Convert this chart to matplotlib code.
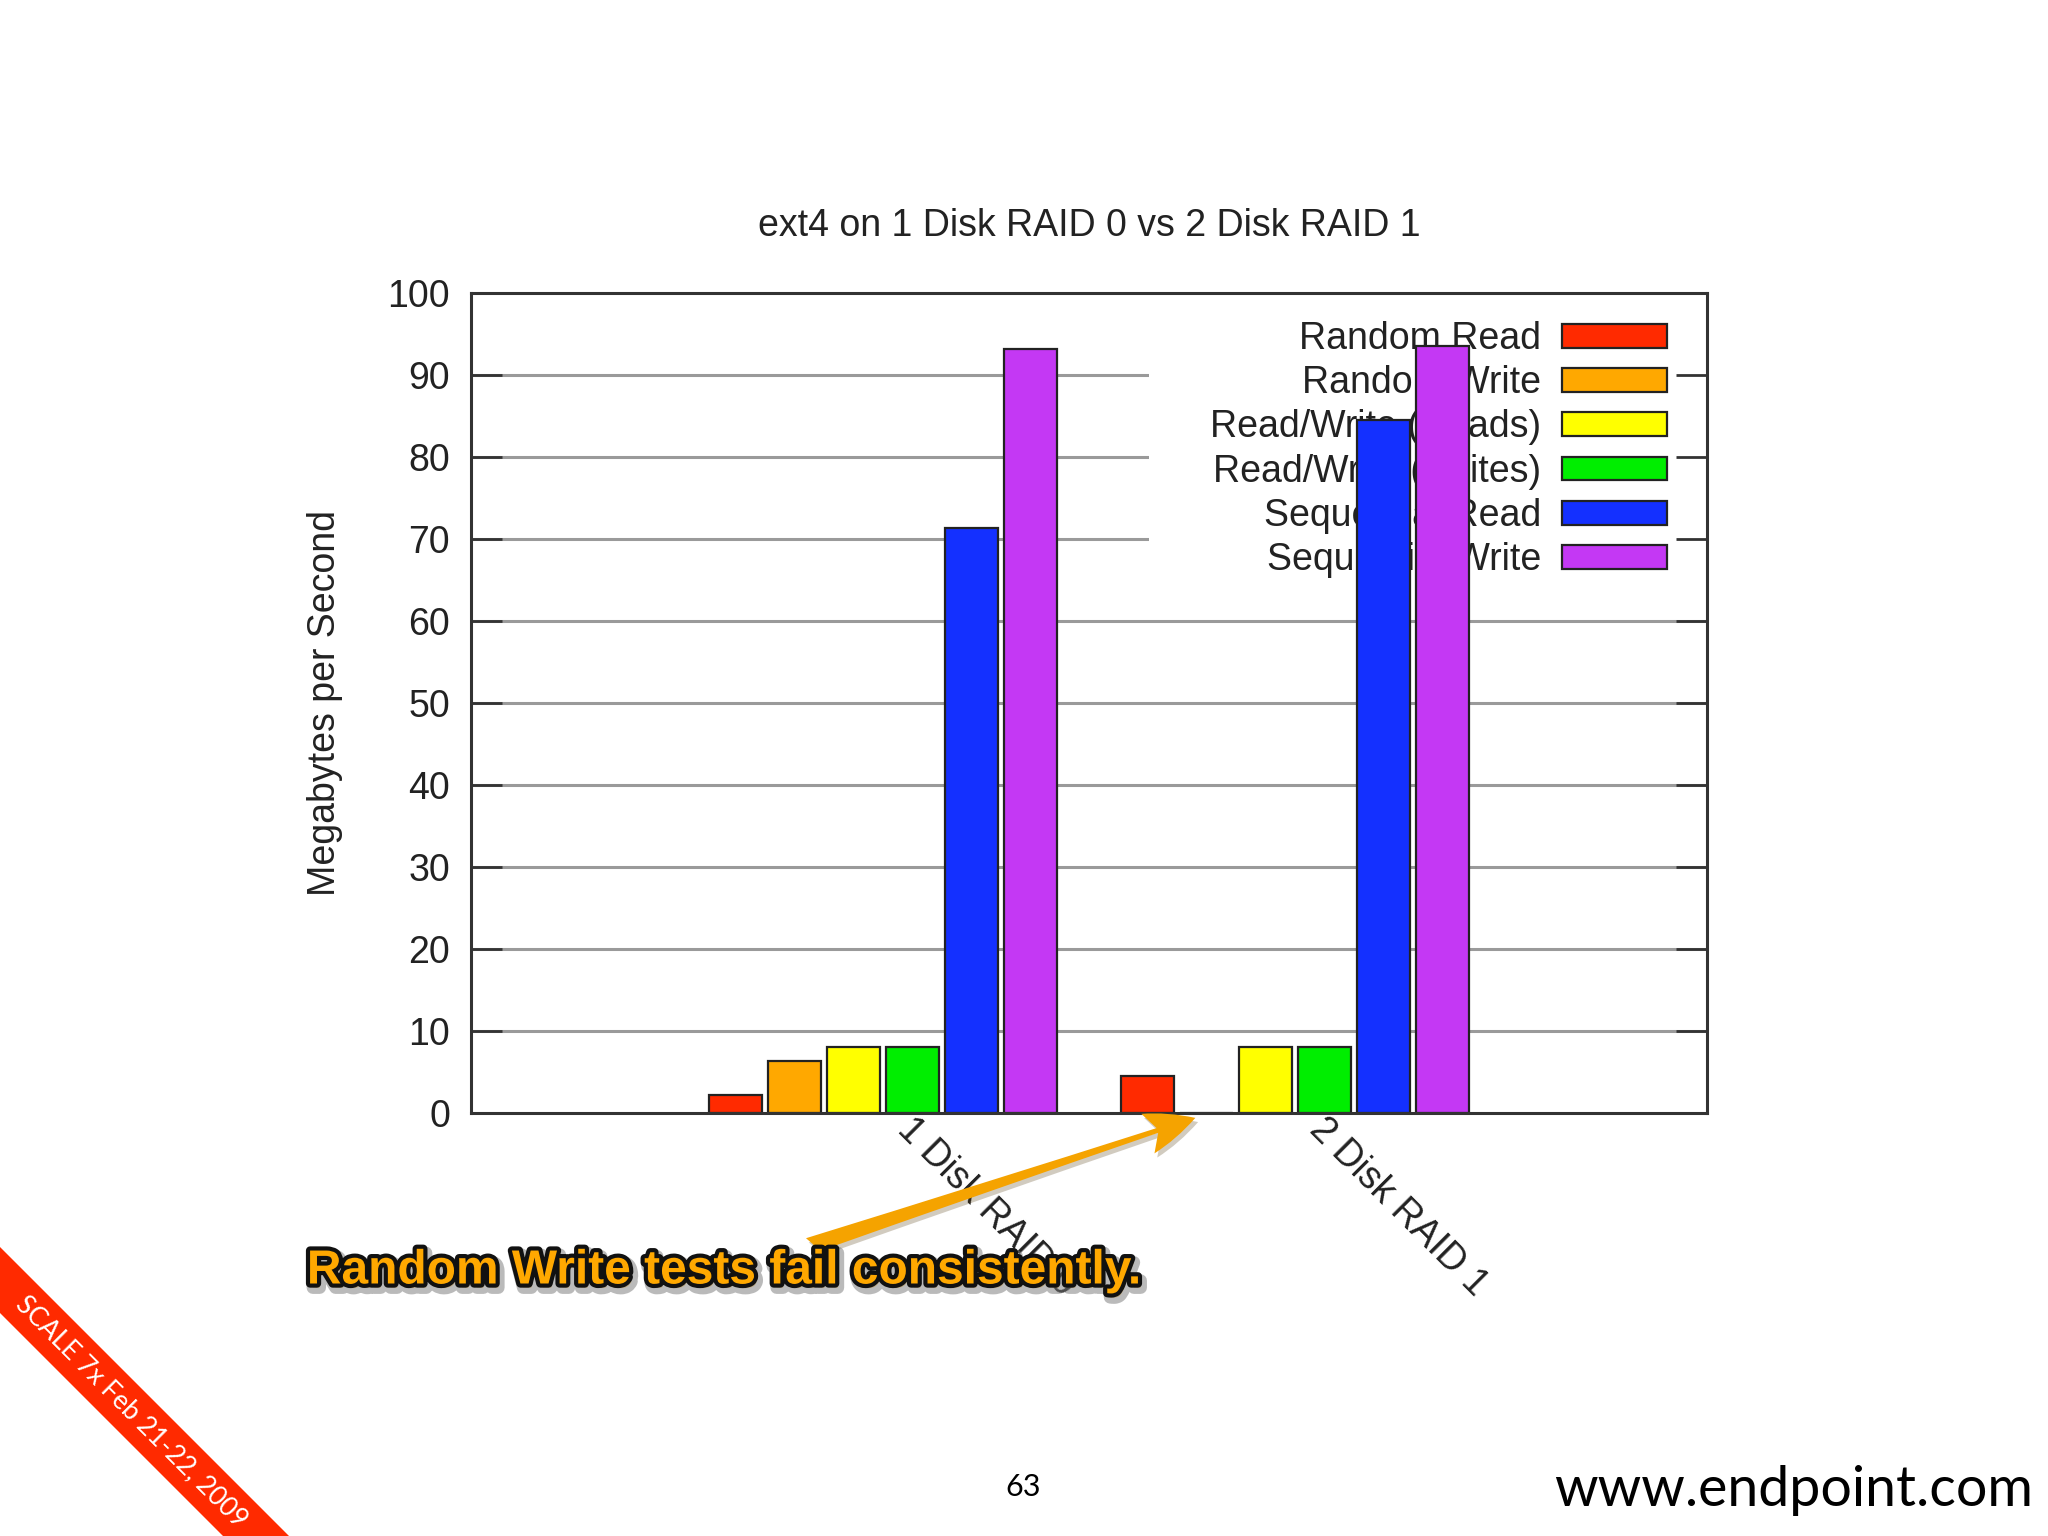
import numpy as np
import matplotlib
matplotlib.use("Agg")
import matplotlib.pyplot as plt
import matplotlib.patheffects as pe
import matplotlib.transforms as mtransforms
from matplotlib.patches import Polygon, Rectangle, FancyArrowPatch

plt.rcParams['font.family'] = ['Liberation Sans', 'DejaVu Sans']

# Data
groups = ['1 Disk RAID 0', '2 Disk RAID 1']
series = ['Random Read', 'Random Write', 'Read/Write (Reads)',
          'Read/Write (Writes)', 'Sequential Read', 'Sequential Write']
random_read = [2.2, 4.5]
random_write = [6.4, 0.0]
rw_reads = [8.1, 8.1]
rw_writes = [8.1, 8.1]
seq_read = [71.3, 84.5]
seq_write = [93.2, 93.5]
yticks = list(range(0, 101, 10))

colors = ['#ff2a00', '#ffa800', '#ffff00', '#00ee00', '#1430ff', '#c438f4']
W, H = 2048, 1536

fig = plt.figure(figsize=(20.48, 15.36), dpi=100)
fig.patch.set_facecolor('white')
ax = fig.add_axes([471 / W, 1 - 1113 / H, 1236 / W, 820 / H])

x = np.arange(len(groups))
all_series = [random_read, random_write, rw_reads, rw_writes, seq_read, seq_write]
for k, vals in enumerate(all_series):
    ax.bar(x + (k - 2.5) / 7, vals, width=0.9 / 7, color=colors[k],
           edgecolor='#222222', linewidth=1.6, zorder=2, label=series[k])

# horizontal grid, below bars
for t in yticks[1:-1]:
    ax.axhline(t, color='#9a9a9a', linewidth=2.2, zorder=0.5)

# key background hides the grid but sits under the bars
ax.add_patch(Rectangle((0.5486, 0.648), 0.4514, 0.33, transform=ax.transAxes,
                       facecolor='white', edgecolor='none', zorder=1))

ax.set_xlim(-1, 2)
ax.set_ylim(0, 100)
ax.set_yticks(yticks)
ax.set_xticks(x)
ax.tick_params(axis='y', direction='in', length=22, width=2, left=True,
               right=True, labelsize=27, pad=15, colors='#333333',
               labelcolor='#222222')
ax.tick_params(axis='x', length=0, labelsize=27, pad=11, labelcolor='#222222')
ax.set_xticklabels(groups, rotation=-45, ha='left', va='center',
                   rotation_mode='anchor')
shift = mtransforms.ScaledTranslation(0.2, 0.04, fig.dpi_scale_trans)
for lab in ax.get_xticklabels():
    lab.set_transform(lab.get_transform() + shift)
for s in ax.spines.values():
    s.set_linewidth(2.2)
    s.set_color('#333333')

leg = ax.legend(loc='upper right', bbox_to_anchor=(0.9676, 0.966),
                frameon=False, markerfirst=False, fontsize=27,
                handlelength=2.8, handleheight=0.6, handletextpad=0.55,
                labelspacing=0.22, borderpad=0, borderaxespad=0)
leg.set_zorder(1.5)
for t in leg.get_texts():
    t.set_color('#222222')

fig.text(1089 / W, 1 - 226 / H, 'ext4 on 1 Disk RAID 0 vs 2 Disk RAID 1',
         ha='center', va='center', fontsize=27, color='#222222')
fig.text(325 / W, 1 - 703 / H, 'Megabytes per Second', rotation=90,
         ha='center', va='center', fontsize=27, color='#222222')

# callout arrow and text
arrow = FancyArrowPatch((806 / W, 1 - 1247 / H), (1198 / W, 1 - 1117 / H),
                        transform=fig.transFigure,
                        arrowstyle='fancy,head_length=0.9,head_width=0.75,tail_width=0.3',
                        mutation_scale=40, color='#f5a300', linewidth=0,
                        path_effects=[pe.SimplePatchShadow(offset=(2, -3), alpha=0.25),
                                      pe.Normal()])
fig.add_artist(arrow)
fig.text(724 / W, 1 - 1271 / H, 'Random Write tests fail consistently.',
         ha='center', va='center', fontsize=34.5, fontweight='bold',
         color='#ffa800', family=['Liberation Sans', 'DejaVu Sans'],
         path_effects=[pe.Stroke(linewidth=9, foreground='#777777', offset=(2, -3), alpha=0.5),
                       pe.Stroke(linewidth=6, foreground='#111111'),
                       pe.Normal()])

# corner ribbon
band = [(0, 1247), (289, 1536), (223, 1536), (0, 1313)]
fig.add_artist(Polygon([(px / W, 1 - py / H) for px, py in band], closed=True,
                       transform=fig.transFigure, facecolor='#ff2a00',
                       edgecolor='none'))
fig.text(132 / W, 1 - 1412 / H, 'SCALE 7x Feb 21-22, 2009', rotation=-45,
         rotation_mode='anchor', ha='center', va='center', fontsize=19,
         color='white', family=['Lato', 'DejaVu Sans'])

# footer
fig.text(1023 / W, 1 - 1487 / H, '63', ha='center', va='center', fontsize=22,
         color='black', family=['Lato', 'DejaVu Sans'])
fig.text(2033 / W, 1 - 1490 / H, 'www.endpoint.com', ha='right', va='center',
         fontsize=40, color='black', family=['Lato', 'DejaVu Sans'])

fig.savefig('out.png', dpi=100, facecolor='white')
